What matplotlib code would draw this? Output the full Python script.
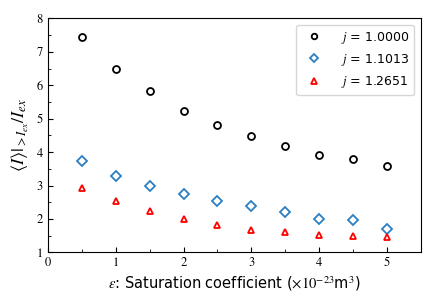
import matplotlib
matplotlib.use('Agg')
import matplotlib.pyplot as plt
from matplotlib.ticker import MultipleLocator

eps = [0.5, 1.0, 1.5, 2.0, 2.5, 3.0, 3.5, 4.0, 4.5, 5.0]
j1 = [7.45, 6.50, 5.82, 5.22, 4.82, 4.47, 4.17, 3.90, 3.80, 3.58]
j2 = [3.74, 3.30, 2.99, 2.74, 2.55, 2.40, 2.22, 2.00, 1.97, 1.70]
j3 = [2.93, 2.55, 2.25, 2.01, 1.82, 1.68, 1.60, 1.52, 1.48, 1.45]

plt.rcParams['mathtext.fontset'] = 'stix'
plt.rcParams['font.size'] = 10

fig, ax = plt.subplots(figsize=(4.36, 3.06), dpi=100)
ax.plot(eps, j1, 'o', mfc='none', mec='black', mew=1.3, ms=5, label=r'$j$ = 1.0000')
ax.plot(eps, j2, 'D', mfc='none', mec='#2c7fc0', mew=1.3, ms=5, label=r'$j$ = 1.1013')
ax.plot(eps, j3, '^', mfc='none', mec='red', mew=1.3, ms=5, label=r'$j$ = 1.2651')

ax.set_xlim(0, 5.5)
ax.set_ylim(1, 8)
ax.xaxis.set_major_locator(MultipleLocator(1))
ax.xaxis.set_minor_locator(MultipleLocator(0.5))
ax.yaxis.set_major_locator(MultipleLocator(1))
ax.yaxis.set_minor_locator(MultipleLocator(0.5))
ax.tick_params(which='both', direction='in')
for lab in ax.get_xticklabels() + ax.get_yticklabels():
    lab.set_family('STIXGeneral')
    lab.set_fontsize(9)

ax.set_xlabel(r'$\epsilon$: Saturation coefficient ($\times10^{-23}$m$^3$)', fontsize=10.5)
ax.set_ylabel(r'$\langle I\rangle|_{>I_{ex}}/I_{ex}$', fontsize=13)
ax.legend(loc='upper right', fontsize=9, handletextpad=1.2, markerscale=0.8)

fig.subplots_adjust(left=0.11, right=0.965, top=0.94, bottom=0.175)
fig.savefig('out.png')
